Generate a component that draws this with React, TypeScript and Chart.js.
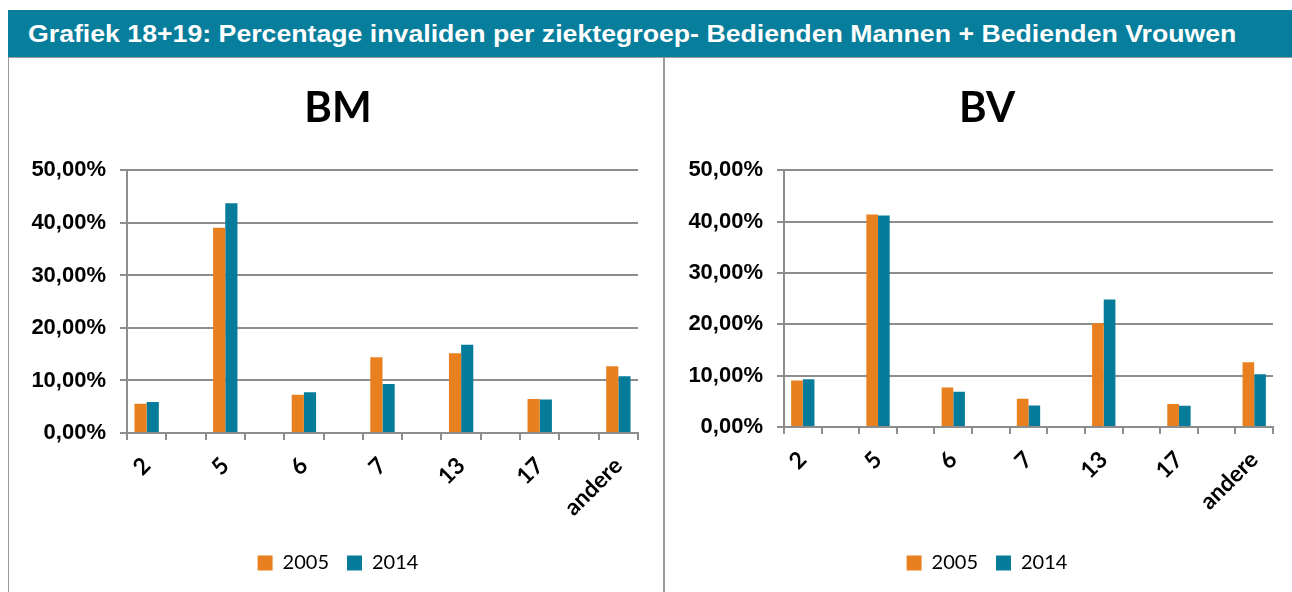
import React, { useEffect, useRef } from 'react';
import { Chart, registerables } from 'chart.js';

Chart.register(...registerables);

// ---- data ----
const categories = ['2', '5', '6', '7', '13', '17', 'andere'];
const seriesNames = ['2005', '2014'];
const bm2005 = [5.56, 39.1, 7.27, 14.42, 15.18, 6.45, 12.7];
const bm2014 = [5.88, 43.76, 7.78, 9.35, 16.8, 6.38, 10.8];
const bv2005 = [9.05, 41.4, 7.69, 5.5, 20.2, 4.47, 12.6];
const bv2014 = [9.32, 41.2, 6.85, 4.2, 24.85, 4.14, 10.3];
const yMin = 0;
const yMax = 50;
const yStep = 10;
const headerText = 'Grafiek 18+19: Percentage invaliden per ziektegroep- Bedienden Mannen + Bedienden Vrouwen';

const ORANGE = '#E8801F';
const TEAL = '#077C9A';
const GRID = '#8d8d8d';

// the original chart leaves an empty category between every group
const paddedLabels = categories.flatMap((c, i) => (i < categories.length - 1 ? [c, ''] : [c]));
const pad = (arr: number[]) =>
  arr.flatMap((v, i) => (i < arr.length - 1 ? [v, null] : [v])) as (number | null)[];

type PanelProps = {
  title: string;
  a: number[];
  b: number[];
  left: number;
  width: number;
  padL: number;
  padR: number;
  yWidth: number;
  y2Width: number;
  xHeight: number;
};

function Panel({ title, a, b, left, width, padL, padR, yWidth, y2Width, xHeight }: PanelProps) {
  const ref = useRef<HTMLCanvasElement | null>(null);
  useEffect(() => {
    if (!ref.current) return;
    const chart = new Chart(ref.current, {
      type: 'bar',
      data: {
        labels: paddedLabels,
        datasets: [
          { label: seriesNames[0], data: pad(a), backgroundColor: ORANGE, borderWidth: 0 },
          { label: seriesNames[1], data: pad(b), backgroundColor: TEAL, borderWidth: 0 },
        ],
      },
      options: {
        responsive: false,
        animation: false,
        layout: { padding: { left: padL, right: padR, top: 0, bottom: 9 } },
        datasets: { bar: { categoryPercentage: 0.62, barPercentage: 1.0 } },
        plugins: {
          tooltip: { enabled: false },
          title: {
            display: true,
            text: title,
            color: '#000',
            font: { family: 'Lato', weight: 'bold', size: 42 },
            padding: { top: 24, bottom: 37 },
          },
          legend: {
            position: 'bottom',
            labels: {
              color: '#000',
              font: { family: 'Lato', size: 20 },
              boxWidth: 15,
              boxHeight: 15,
              padding: 18,
            },
          },
        },
        scales: {
          x: {
            grid: {
              display: true,
              drawOnChartArea: false,
              drawTicks: true,
              tickLength: 7,
              color: GRID,
              lineWidth: 2,
              offset: true,
            },
            border: { color: GRID, width: 2 },
            ticks: {
              autoSkip: false,
              minRotation: 45,
              maxRotation: 45,
              padding: 12,
              color: '#000',
              font: { family: 'Lato', weight: 'bold', size: 23 },
            },
            afterFit: (s: any) => {
              s.height = xHeight;
            },
          },
          y: {
            min: yMin,
            max: yMax,
            ticks: {
              stepSize: yStep,
              padding: 14,
              color: '#000',
              font: { family: 'Liberation Sans', weight: 'bold', size: 22 },
              callback: (v: any) => Number(v).toFixed(2).replace('.', ',') + '%',
            },
            grid: { color: GRID, lineWidth: 2, tickLength: 7 },
            border: { color: GRID, width: 2 },
            afterFit: (s: any) => {
              s.width = yWidth;
            },
          },
          y2: {
            type: 'linear',
            position: 'right',
            display: true,
            grid: { display: false, drawTicks: false },
            border: { display: false },
            ticks: { display: false },
            afterFit: (s: any) => {
              s.width = y2Width;
            },
          },
        },
      } as any,
    });
    return () => chart.destroy();
  }, []);
  return (
    <canvas
      ref={ref}
      width={width}
      height={533}
      style={{ position: 'absolute', left, top: 59, width, height: 533 }}
    />
  );
}

export default function App() {
  return (
    <div
      style={{
        position: 'fixed',
        left: 0,
        top: 0,
        width: 1292,
        height: 592,
        overflow: 'hidden',
        background: '#fff',
      }}
    >
      <div
        style={{
          position: 'absolute',
          left: 8,
          top: 10,
          width: 1284,
          height: 47,
          background: '#077E9C',
          overflow: 'hidden',
        }}
      >
        <span
          style={{
            position: 'absolute',
            left: 20,
            top: 0,
            color: '#fff',
            fontFamily: '"Liberation Sans", Arial, sans-serif',
            fontWeight: 'bold',
            fontSize: 23,
            lineHeight: '49px',
            whiteSpace: 'nowrap',
            transform: 'scaleX(1.16)',
            transformOrigin: 'left center',
          }}
        >
          {headerText}
        </span>
      </div>
      <div style={{ position: 'absolute', left: 8, top: 57, width: 1284, height: 1, background: '#9a9a9a' }} />
      <div style={{ position: 'absolute', left: 8, top: 58, width: 1, height: 534, background: '#9a9a9a' }} />
      <div style={{ position: 'absolute', left: 663, top: 58, width: 2, height: 534, background: '#9a9a9a' }} />
      <Panel title="BM" a={bm2005} b={bm2014} left={10} width={653} padL={3} padR={0} yWidth={114} y2Width={25} xHeight={102} />
      <Panel title="BV" a={bv2005} b={bv2014} left={666} width={626} padL={16} padR={0} yWidth={102} y2Width={19} xHeight={108} />
    </div>
  );
}
